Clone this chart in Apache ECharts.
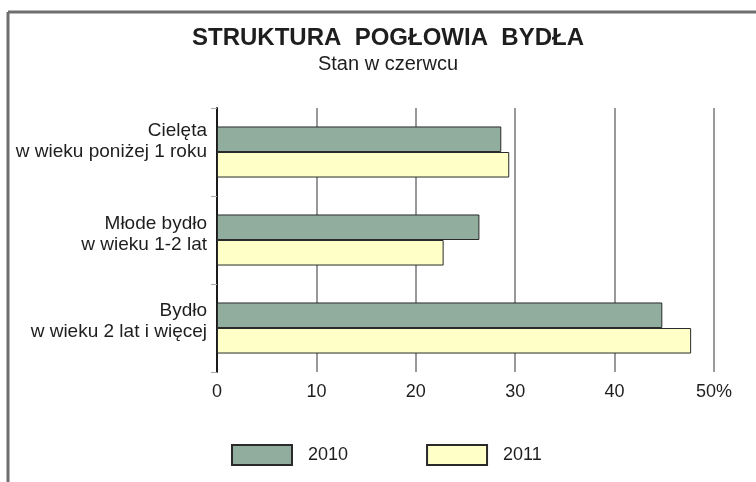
<!DOCTYPE html>
<html>
<head>
<meta charset="utf-8">
<script src="https://cdn.jsdelivr.net/npm/echarts@6/dist/echarts.min.js"></script>
<style>
  html, body { margin: 0; padding: 0; background: #fff; }
  #chart { width: 756px; height: 482px; }
</style>
</head>
<body>
<div id="chart"></div>
<script>
let categories = ["Cielęta\nw wieku poniżej 1 roku", "Młode bydło\nw wieku 1-2 lat", "Bydło\nw wieku 2 lat i więcej"];
let values2010 = [28.6, 26.4, 44.8];
let values2011 = [29.4, 22.8, 47.7];
let years = ["2010", "2011"];

let myChart = echarts.init(document.getElementById("chart"));
let font = "Liberation Sans, Arial, sans-serif";

let option = {
  animation: false,
  backgroundColor: "#ffffff",
  textStyle: { fontFamily: font },
  title: {
    text: "STRUKTURA  POGŁOWIA  BYDŁA",
    subtext: "Stan w czerwcu",
    left: 388,
    textAlign: "center",
    top: 26,
    padding: 0,
    itemGap: 4,
    textStyle: { fontSize: 24, fontWeight: "bold", color: "#1e1e1e", fontFamily: font },
    subtextStyle: { fontSize: 20, color: "#1e1e1e", fontFamily: font },
  },
  // frame lines (top and left)
  graphic: [
    {
      type: "line",
      shape: { x1: 8, y1: 12, x2: 756, y2: 12 },
      style: { stroke: "#6e6e6e", lineWidth: 3 },
    },
    {
      type: "line",
      shape: { x1: 8, y1: 12, x2: 8, y2: 482 },
      style: { stroke: "#6e6e6e", lineWidth: 3 },
    },
  ],
  legend: {
    left: 231,
    top: 444,
    padding: 0,
    itemWidth: 60,
    itemHeight: 20,
    itemGap: 78,
    icon: "rect",
    textStyle: { fontSize: 18, color: "#1e1e1e", fontFamily: font, padding: [0, 0, 0, 11] },
    data: years,
  },
  grid: { left: 217, right: 42, top: 108, bottom: 110 },
  xAxis: {
    type: "value",
    min: 0,
    max: 50,
    interval: 10,
    axisLine: { show: false },
    axisTick: { show: false },
    splitLine: { show: true, lineStyle: { color: "#777", width: 1.5 } },
    axisLabel: {
      margin: 11,
      fontSize: 18,
      color: "#1e1e1e",
      fontFamily: font,
      formatter: function (v) {
        return v === 50 ? "50%" : String(v);
      },
    },
  },
  yAxis: {
    type: "category",
    inverse: true,
    data: categories,
    axisLine: { show: true, lineStyle: { color: "#1a1a1a", width: 2 } },
    axisTick: { show: true, length: 6, lineStyle: { color: "#aaa", width: 1 } },
    axisLabel: {
      margin: 10,
      align: "right",
      // an empty spacer line under the text lifts the block above the category centre
      formatter: function (v, i) {
        let lines = v.split("\n");
        return "{t|" + lines[0] + "}\n{t|" + lines[1] + "}\n{g" + i + "| }";
      },
      rich: {
        t: { fontSize: 19, lineHeight: 21, color: "#1e1e1e", fontFamily: font, align: "right" },
        g0: { fontSize: 1, lineHeight: 22 },
        g1: { fontSize: 1, lineHeight: 12 },
        g2: { fontSize: 1, lineHeight: 13 },
      },
    },
  },
  series: [
    {
      name: years[0],
      type: "bar",
      data: values2010,
      barGap: "0%",
      barCategoryGap: "42%",
      itemStyle: { color: "#91ad9d", borderColor: "#2a2a2a", borderWidth: 1 },
    },
    {
      name: years[1],
      type: "bar",
      data: values2011,
      barGap: "0%",
      barCategoryGap: "42%",
      itemStyle: { color: "#ffffc8", borderColor: "#2a2a2a", borderWidth: 1 },
    },
  ],
};
myChart.setOption(option);
</script>
</body>
</html>
